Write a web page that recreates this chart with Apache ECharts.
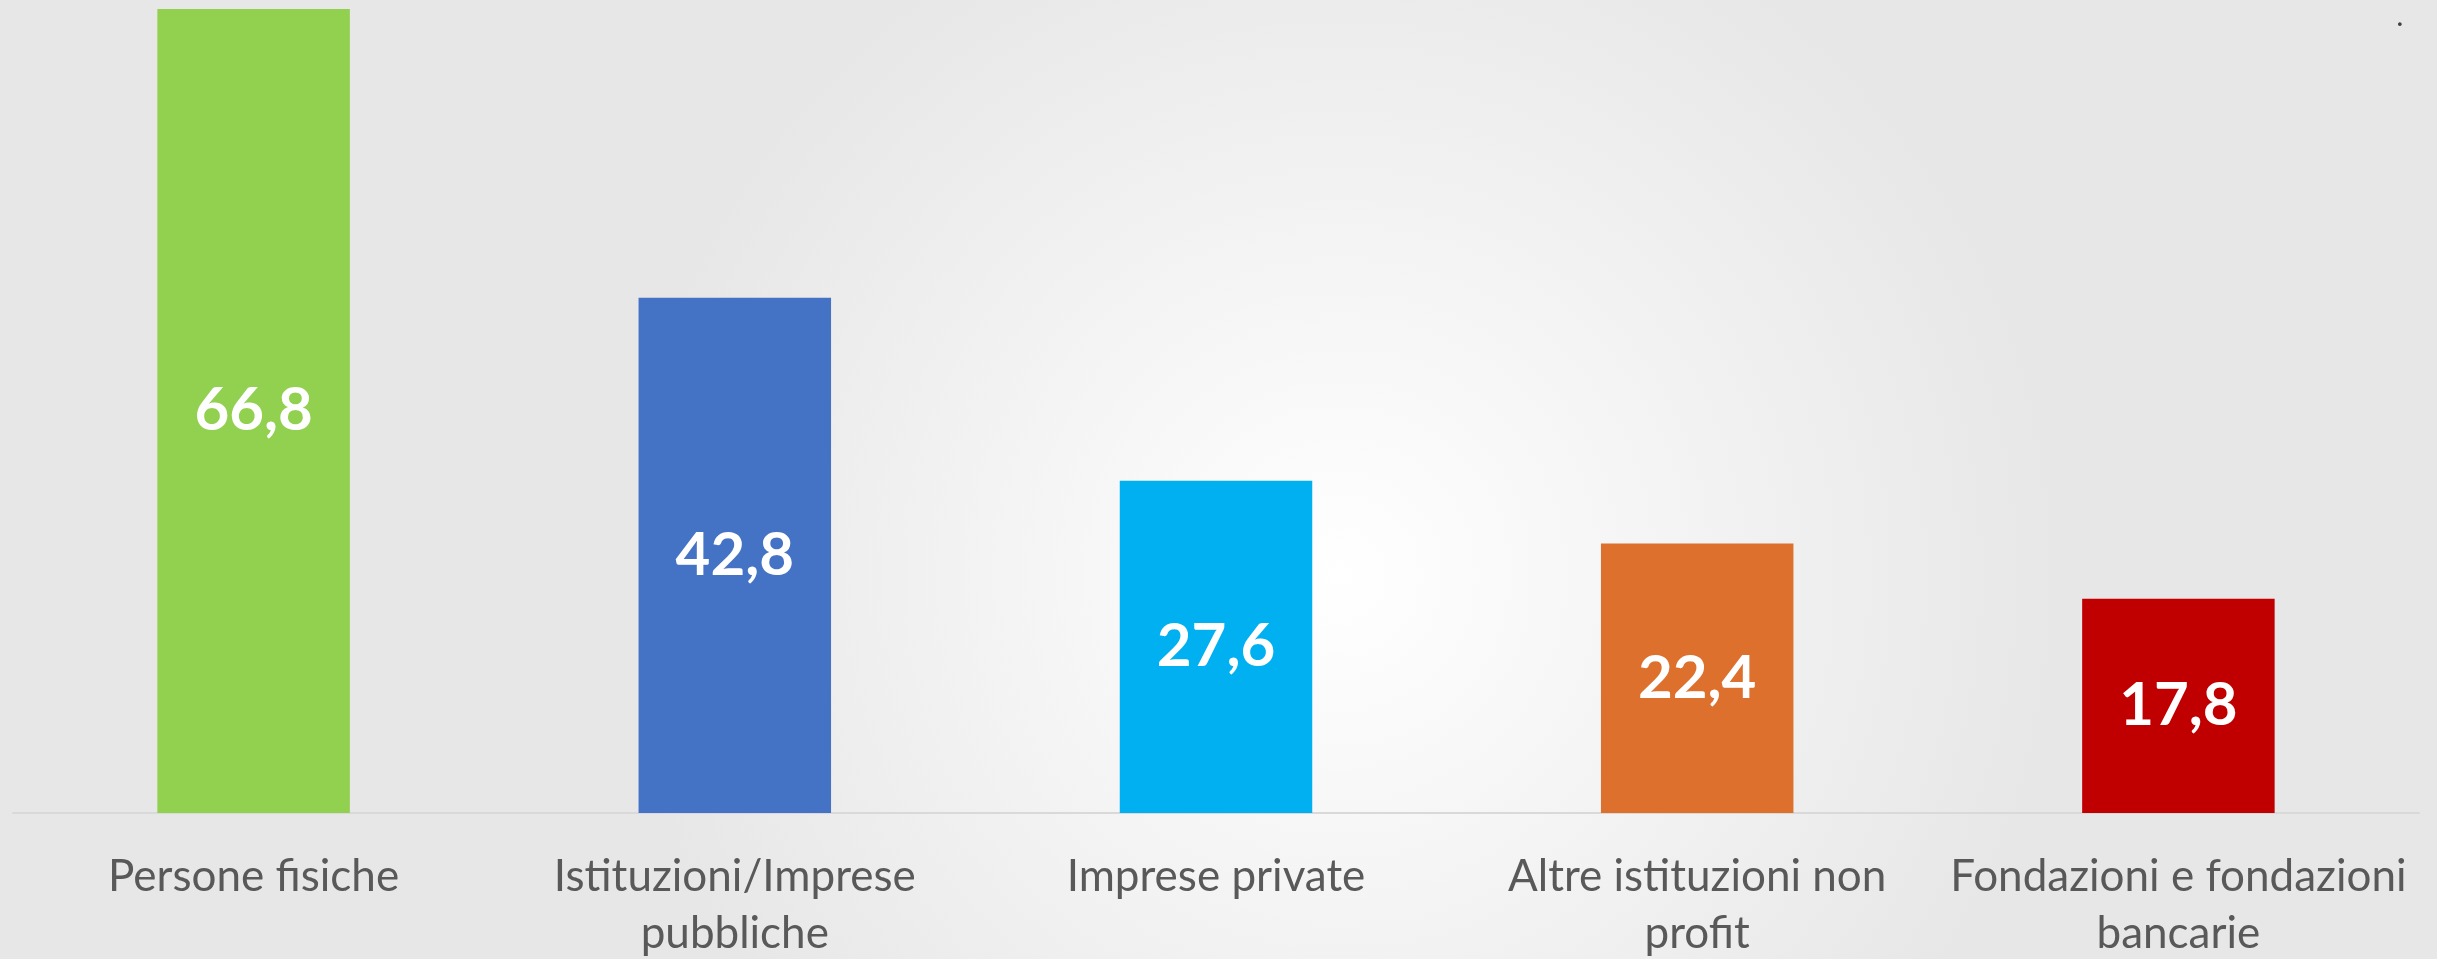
<!DOCTYPE html>
<html>
<head>
<meta charset="utf-8">
<script src="https://cdn.jsdelivr.net/npm/echarts@6/dist/echarts.min.js"></script>
<style>
  html, body { margin: 0; padding: 0; }
  #chart { width: 2437px; height: 959px; }
</style>
</head>
<body>
<div id="chart"></div>
<script>
// dati del grafico
var categorie = ['Persone fisiche', 'Istituzioni/Imprese\npubbliche', 'Imprese private', 'Altre istituzioni non\nprofit', 'Fondazioni e fondazioni\nbancarie'];
var valori = [66.8, 42.8, 27.6, 22.4, 17.8];
var colori = ['#92d050', '#4472c4', '#00b0f0', '#dc702c', '#c00000'];

var seriesData = [];
for (var i = 0; i < valori.length; i++) {
    seriesData.push({ value: valori[i], itemStyle: { color: colori[i] } });
}

var option = {
    backgroundColor: {
        type: 'radial', x: 0.55, y: 0.6, r: 0.75,
        colorStops: [{ offset: 0, color: '#ffffff' }, { offset: 1, color: '#e7e7e7' }]
    },
    grid: { left: 13, right: 18, top: 9, bottom: 146, containLabel: false, outerBoundsMode: 'none' },
    xAxis: {
        type: 'category',
        data: categorie,
        axisLine: { show: true, lineStyle: { color: '#d9d9d9', width: 2 } },
        axisTick: { show: false },
        axisLabel: {
            color: '#595959', fontFamily: 'Lato', fontSize: 44,
            lineHeight: 57, margin: 35, interval: 0
        }
    },
    yAxis: {
        type: 'value', min: 0, max: 66.8,
        show: false, splitLine: { show: false }
    },
    series: [{
        type: 'bar',
        data: seriesData,
        barWidth: '40%',
        label: {
            show: true, position: 'inside', color: '#ffffff',
            fontFamily: 'Lato', fontWeight: 'bold', fontSize: 60,
            formatter: function (p) { return String(p.value.toFixed(1)).replace('.', ','); }
        }
    }],
    graphic: [{
        type: 'text', left: 2397, top: 6,
        style: { text: '.', fill: '#404040', font: 'bold 24px Lato' }
    }]
};

var myChart = echarts.init(document.getElementById('chart'));
myChart.setOption(option);
</script>
</body>
</html>
